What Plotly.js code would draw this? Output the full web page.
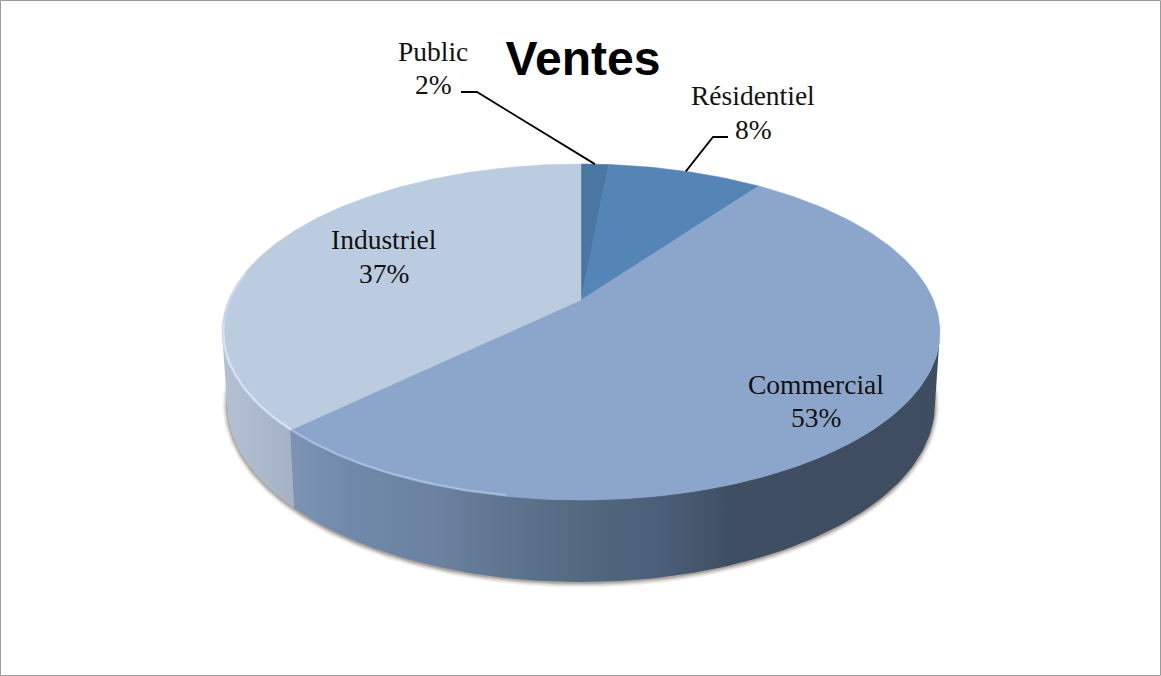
<!DOCTYPE html>
<html><head><meta charset="utf-8">
<script src="https://cdn.plot.ly/plotly-3.0.1.min.js"></script>
<style>html,body{margin:0;padding:0;background:#fff}#c{width:1161px;height:676px}</style>
</head><body><div id="c"></div>
<script>
// DATA
const categories = ["Public", "Résidentiel", "Commercial", "Industriel"];
const shares = [1.5, 8.4, 52.8, 37.3];
const chartTitle = "Ventes";

// STYLE
const topColors = ["#4a76a3", "#5584b7", "#8ca6cb", "#bccce0"];
const wallGradient = {
  Commercial: [[0, "#7c93b5"], [0.1, "#7089aa"], [0.22, "#6b82a1"], [0.45, "#52697f"], [0.58, "#4b5e77"], [0.68, "#3f4e62"], [1, "#3e4d60"]],
  Industriel: [[0, "#b4c1d4"], [1, "#a6b1c5"]]
};
const labelPos = {
  Public: [433, 51, 84], "Résidentiel": [753, 95, 129], Commercial: [816, 384, 417], Industriel: [384, 239, 273]
};
const elbows = { Public: [[461, 92], [477, 92]], "Résidentiel": [[728, 137], [713, 137]] };

// GEOMETRY (perspective disc, mapped onto pixel-like axes)
const apex = [581, 300], A = 352.4, B = 161.9, K = 0.1905;
const rad = d => d * Math.PI / 180;
function rim(deg) {
  const u = Math.sin(rad(deg)), v = -Math.cos(rad(deg)), w = 1 - K * v;
  return [apex[0] + A * u / w, apex[1] + B * v / w];
}
function base(p) { return [581 + (p[0] - 581) * 354 / 359, 404 + (p[1] - 332) * 178 / 168]; }
function arc(a, b, f) {
  const n = Math.max(2, Math.ceil(Math.abs(b - a))), out = [];
  for (let i = 0; i <= n; i++) { const p = rim(a + (b - a) * i / n); out.push(f ? f(p) : p); }
  return out;
}
const starts = []; let acc = 0;
shares.forEach(s => { starts.push(acc * 3.6); acc += s; });
const ends = shares.map((s, i) => starts[i] + s * 3.6);
const xs = pts => pts.map(p => p[0]), ys = pts => pts.map(p => p[1]);
const traces = [];

// soft shadow under the wall
[[4.5, 0.07], [3.5, 0.09], [2.5, 0.12], [1.5, 0.16], [0.8, 0.22]].forEach(([g, o]) => {
  const pts = arc(0, 360, p => { const b = base(p); return [581 + (b[0] - 581) * (1 + g / 354), 404 + (b[1] - 404) * (1 + g / 178) + 1]; });
  traces.push({ x: xs(pts), y: ys(pts), mode: "lines", line: { width: 0 }, fill: "toself", fillcolor: `rgba(95,85,75,${o})`, hoverinfo: "skip" });
});

// side walls
function wall(a, b, grad) {
  const top = arc(a, b), bot = arc(b, a, base), pts = top.concat(bot);
  const x = xs(pts);
  traces.push({ x, y: ys(pts), mode: "lines", line: { width: 0 }, fill: "toself", hoverinfo: "skip",
    fillgradient: { type: "horizontal", start: Math.min(...x), stop: Math.max(...x), colorscale: grad } });
}
const iC = categories.indexOf("Commercial");
wall(ends[iC], 101, wallGradient.Commercial);
wall(259, ends[iC], wallGradient.Industriel);

// top faces
categories.forEach((c, i) => {
  const pts = [apex].concat(arc(starts[i], ends[i])).concat([apex]);
  traces.push({ x: xs(pts), y: ys(pts), name: c, mode: "lines", line: { width: 0.5, color: topColors[i] }, fill: "toself", fillcolor: topColors[i], hoverinfo: "skip" });
});

// bevel highlights on the rim
function bevel(a, b, color, width) {
  const pts = arc(a, b, p => [apex[0] + (p[0] - apex[0]) * 0.996, p[1] + (apex[1] - p[1]) * 0.006]);
  traces.push({ x: xs(pts), y: ys(pts), mode: "lines", line: { color, width }, hoverinfo: "skip" });
}
bevel(ends[iC], 262, "rgba(222,232,246,0.8)", 2);
bevel(262, 280, "rgba(222,232,246,0.35)", 2);
bevel(190, ends[iC], "rgba(185,205,235,0.7)", 1.6);

// leader lines
const shapes = [];
["Public", "Résidentiel"].forEach(c => {
  const i = categories.indexOf(c), m = rim((starts[i] + ends[i]) / 2);
  const pts = elbows[c].concat([m]);
  traces.push({ x: xs(pts), y: ys(pts), mode: "lines", line: { color: "#000", width: 1.8 }, hoverinfo: "skip" });
});

// frame
shapes.push({ type: "rect", xref: "x", yref: "y", x0: 0.5, y0: 0.5, x1: 1160.5, y1: 675.5, line: { color: "#9a9a9a", width: 1 } });

const labelFont = { family: "Liberation Serif, serif", size: 27.5, color: "#111" };
const annotations = [];
categories.forEach((c, i) => {
  const [x, y1, y2] = labelPos[c];
  annotations.push({ x, y: y1, xref: "x", yref: "y", xanchor: "center", yanchor: "middle", showarrow: false, text: c, font: labelFont });
  annotations.push({ x, y: y2, xref: "x", yref: "y", xanchor: "center", yanchor: "middle", showarrow: false, text: Math.round(shares[i]) + "%", font: labelFont });
});

Plotly.newPlot("c", traces, {
  width: 1161, height: 676, margin: { l: 0, r: 0, t: 0, b: 0 },
  paper_bgcolor: "#fff", plot_bgcolor: "#fff", showlegend: false,
  title: { text: "<b>" + chartTitle + "</b>", x: 583 / 1161, xanchor: "center", xref: "paper", y: 1 - 58 / 676, yanchor: "middle", yref: "paper",
    font: { family: "Liberation Sans, Arial, sans-serif", size: 48, color: "#000" } },
  xaxis: { range: [0, 1161], visible: false, fixedrange: true },
  yaxis: { range: [676, 0], visible: false, fixedrange: true },
  shapes, annotations
}, { displayModeBar: false, staticPlot: true });
</script></body></html>
